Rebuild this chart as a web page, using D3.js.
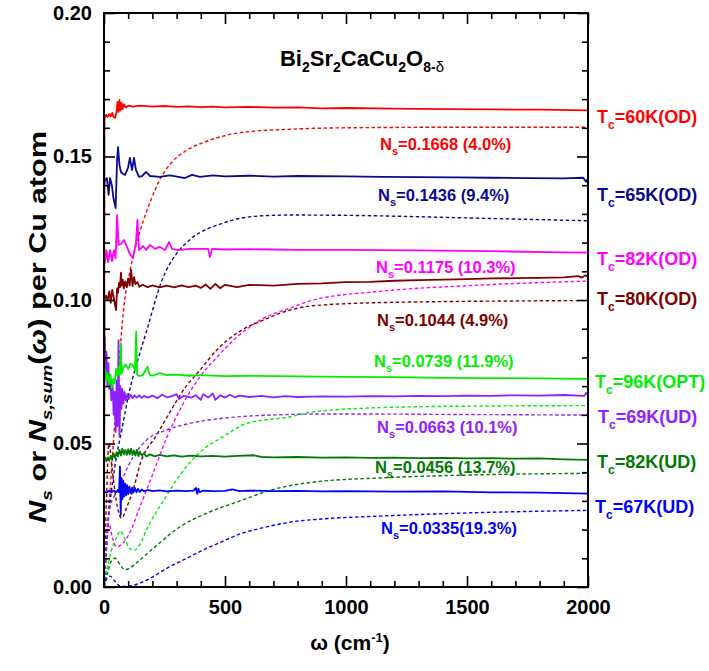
<!DOCTYPE html>
<html><head><meta charset="utf-8">
<script src="https://cdn.jsdelivr.net/npm/d3@7"></script>
<style>
html,body{margin:0;padding:0;background:#fff;}
svg{display:block;font-family:"Liberation Sans",Arial,Helvetica,sans-serif;font-weight:bold;}
</style></head><body>
<svg id="chart" width="709" height="671"></svg>
<script>
// ---- Samples (Bi2212 films) ----
const samples  = ["60K(OD)", "65K(OD)", "82K(OD)", "80K(OD)", "96K(OPT)", "69K(UD)", "82K(UD)", "67K(UD)"];
const nsLabels = ["=0.1668 (4.0%)", "=0.1436 (9.4%)", "=0.1175 (10.3%)", "=0.1044 (4.9%)",
                  "=0.0739 (11.9%)", "=0.0663 (10.1%)", "=0.0456 (13.7%)", "=0.0335(19.3%)"];

// ---- N_s(ω): superfluid weight spectra, [ω (cm-1), value per Cu] ----
const ns60OD = [[0,0],[2,0.1630],[8,0.1645],[15,0.1638],[22,0.1648],[28,0.1640],[34,0.1652],[40,0.1637],[46,0.1635],
  [52,0.1655],[56,0.1690],[60,0.1655],[64,0.1697],[68,0.1660],[72,0.1688],[76,0.1665],[82,0.1682],[90,0.1671],
  [100,0.1677],[120,0.1674],[150,0.1677],[200,0.1674],[250,0.1676],[300,0.1673],[350,0.1675],[400,0.1672],
  [450,0.1674],[500,0.1671],[600,0.1673],[700,0.1670],[800,0.1671],[900,0.1668],[1000,0.1669],[1200,0.1667],
  [1400,0.1665],[1600,0.1664],[1800,0.1663],[2000,0.1661]];
const ns65OD = [[0,0.1395],[4,0.1418],[12,0.1425],[19,0.1366],[25,0.1425],[33,0.1397],[39,0.1355],[48,0.1320],
  [54,0.1488],[58,0.1533],[64,0.1470],[70,0.1446],[79,0.1439],[87,0.1436],[99,0.1460],[107,0.1495],[116,0.1453],
  [124,0.1495],[132,0.1453],[145,0.1429],[157,0.1432],[174,0.1446],[190,0.1432],[231,0.1429],[273,0.1434],
  [335,0.1425],[364,0.1436],[397,0.1429],[450,0.1434],[500,0.1431],[600,0.1433],[700,0.1430],[800,0.1432],
  [1000,0.1431],[1150,0.1429],[1300,0.1428],[1450,0.1427],[1600,0.1426],[1750,0.1425],[1900,0.1424],
  [1980,0.1426],[1992,0.1412],[2000,0.1423]];
const ns82OD = [[0,0.1157],[4,0.1132],[10,0.1174],[17,0.1132],[25,0.1174],[33,0.1136],[41,0.1174],[48,0.1146],
  [54,0.1296],[60,0.1192],[70,0.1195],[83,0.1209],[95,0.1185],[107,0.1160],[120,0.1146],[132,0.1199],[138,0.1279],
  [145,0.1174],[161,0.1188],[174,0.1174],[190,0.1192],[211,0.1178],[231,0.1185],[252,0.1174],[269,0.1202],
  [281,0.1178],[306,0.1174],[355,0.1178],[430,0.1178],[438,0.1150],[446,0.1178],[500,0.1176],[600,0.1177],
  [800,0.1175],[1000,0.1175],[1300,0.1173],[1600,0.1170],[1900,0.1166],[2000,0.1165]];
const ns80OD = [[0,0],[2,0.1000],[8,0.1015],[15,0.1000],[22,0.1030],[28,0.0990],[34,0.1035],[40,0.1010],[46,0.0980],
  [50,0.0965],[54,0.1040],[58,0.1025],[62,0.1060],[66,0.1045],[70,0.1095],[74,0.1050],[78,0.1070],[82,0.1040],
  [88,0.1065],[94,0.1045],[100,0.1075],[106,0.1050],[112,0.1105],[118,0.1048],[124,0.1080],[130,0.1055],
  [138,0.1062],[146,0.1046],[160,0.1053],[180,0.1045],[200,0.1051],[230,0.1044],[260,0.1050],[290,0.1044],
  [320,0.1051],[350,0.1045],[380,0.1050],[400,0.1042],[420,0.1054],[440,0.1039],[460,0.1056],[480,0.1041],
  [500,0.1053],[550,0.1045],[600,0.1053],[700,0.1050],[800,0.1056],[900,0.1058],[1000,0.1062],[1100,0.1063],
  [1200,0.1067],[1300,0.1069],[1400,0.1071],[1500,0.1073],[1600,0.1075],[1700,0.1076],[1800,0.1077],
  [1900,0.1079],[1960,0.1083],[1975,0.1078],[1990,0.1086],[2000,0.1081]];
const ns96OPT = [[0,0.0785],[5,0.0760],[10,0.0720],[15,0.0745],[20,0.0705],[26,0.0740],[32,0.0695],[38,0.0725],
  [44,0.0710],[50,0.0760],[56,0.0735],[62,0.0770],[66,0.0740],[70,0.0850],[73,0.0745],[80,0.0765],[90,0.0775],
  [100,0.0760],[110,0.0778],[120,0.0772],[128,0.0755],[133,0.0890],[137,0.0740],[145,0.0735],[160,0.0738],
  [180,0.0768],[188,0.0740],[200,0.0736],[230,0.0745],[260,0.0738],[300,0.0740],[350,0.0736],[400,0.0738],
  [500,0.0735],[600,0.0736],[800,0.0734],[1000,0.0732],[1200,0.0731],[1400,0.0729],[1600,0.0728],
  [1800,0.0727],[2000,0.0725]];
const ns69UD = [[0,0.0790],[3,0.0870],[6,0.0760],[10,0.0820],[14,0.0700],[18,0.0780],[22,0.0690],[26,0.0740],
  [30,0.0650],[35,0.0720],[40,0.0600],[44,0.0680],[48,0.0540],[52,0.0720],[56,0.0560],[60,0.0860],[64,0.0524],
  [68,0.0700],[72,0.0620],[76,0.0690],[80,0.0640],[85,0.0680],[90,0.0650],[96,0.0672],[102,0.0655],[110,0.0670],
  [118,0.0658],[126,0.0668],[135,0.0660],[145,0.0668],[155,0.0659],[165,0.0666],[180,0.0660],[200,0.0667],
  [220,0.0658],[240,0.0670],[260,0.0661],[280,0.0665],[300,0.0672],[310,0.0655],[330,0.0666],[360,0.0660],
  [380,0.0668],[400,0.0652],[410,0.0672],[430,0.0660],[450,0.0674],[460,0.0652],[480,0.0668],[500,0.0660],
  [520,0.0670],[540,0.0661],[560,0.0667],[600,0.0662],[650,0.0666],[700,0.0661],[750,0.0665],[800,0.0662],
  [900,0.0664],[1000,0.0663],[1100,0.0665],[1200,0.0664],[1300,0.0666],[1400,0.0665],[1500,0.0667],
  [1600,0.0666],[1700,0.0668],[1800,0.0667],[1900,0.0669],[1985,0.0666],[1992,0.0676],[2000,0.0668]];
const ns82UD = [[0,0.0443],[5,0.0450],[10,0.0438],[16,0.0452],[22,0.0440],[28,0.0458],[34,0.0445],[40,0.0465],
  [46,0.0450],[52,0.0470],[58,0.0455],[64,0.0478],[70,0.0458],[76,0.0482],[82,0.0462],[88,0.0478],[94,0.0460],
  [100,0.0480],[106,0.0462],[112,0.0482],[118,0.0460],[124,0.0476],[130,0.0458],[136,0.0478],[142,0.0456],
  [148,0.0472],[156,0.0458],[165,0.0466],[175,0.0455],[190,0.0462],[210,0.0455],[230,0.0460],[260,0.0455],
  [290,0.0459],[320,0.0454],[360,0.0458],[400,0.0455],[450,0.0457],[500,0.0454],[550,0.0457],[620,0.0459],
  [650,0.0453],[700,0.0452],[800,0.0453],[900,0.0451],[1000,0.0452],[1100,0.0450],[1200,0.0451],[1300,0.0449],
  [1400,0.0450],[1500,0.0448],[1600,0.0449],[1700,0.0447],[1800,0.0448],[1900,0.0445],[2000,0.0443]];
const ns67UD = [[0,0.0327],[5,0.0332],[10,0.0328],[20,0.0335],[30,0.0330],[40,0.0336],[50,0.0331],[58,0.0338],
  [62,0.0330],[66,0.0419],[69,0.0250],[72,0.0380],[76,0.0305],[80,0.0370],[84,0.0315],[88,0.0360],[92,0.0320],
  [96,0.0355],[100,0.0324],[105,0.0350],[110,0.0326],[116,0.0346],[122,0.0330],[128,0.0345],[134,0.0330],
  [140,0.0342],[148,0.0331],[156,0.0340],[165,0.0333],[180,0.0338],[200,0.0334],[230,0.0337],[260,0.0333],
  [300,0.0336],[340,0.0334],[370,0.0336],[380,0.0345],[385,0.0325],[390,0.0343],[395,0.0330],[410,0.0336],
  [450,0.0334],[500,0.0335],[530,0.0340],[560,0.0334],[600,0.0336],[700,0.0334],[800,0.0335],[900,0.0333],
  [1000,0.0334],[1200,0.0332],[1400,0.0333],[1600,0.0330],[1800,0.0329],[2000,0.0325]];

// ---- N_s,sum(ω): missing-area sum rule, [ω (cm-1), value per Cu] ----
const sum60OD = [[0,0],[10,0.012],[20,0.028],[32,0.042],[52,0.066],[66,0.082],[80,0.096],[107,0.110],[149,0.124],
  [190,0.134],[231,0.142],[280,0.148],[330,0.1515],[438,0.1557],[562,0.1583],[769,0.1595],[1000,0.1600],
  [1500,0.1602],[2000,0.1602]];
const sum65OD = [[0,0],[15,0.020],[45,0.042],[74,0.055],[107,0.069],[136,0.078],[177,0.0895],[240,0.107],
  [302,0.1164],[355,0.121],[492,0.1268],[645,0.1293],[770,0.1296],[1000,0.1295],[1500,0.1286],[2000,0.1276]];
const sum82OD = [[0,0],[8,0.018],[20,0.022],[35,0.017],[52,0.014],[75,0.015],[107,0.019],[149,0.028],[200,0.039],
  [259,0.052],[328,0.064],[397,0.0733],[466,0.080],[548,0.087],[645,0.093],[769,0.0972],[864,0.100],
  [1140,0.103],[1554,0.1052],[2000,0.1066]];
const sum80OD = [[0,0],[10,0.030],[20,0.050],[35,0.040],[55,0.028],[73,0.024],[95,0.028],[121,0.034],[150,0.043],
  [218,0.053],[273,0.061],[328,0.0686],[397,0.0756],[466,0.0826],[548,0.0884],[658,0.093],[769,0.0965],
  [864,0.098],[1200,0.0992],[2000,0.0998]];
const sum96OPT = [[0,0],[25,0.011],[50,0.017],[68,0.0195],[85,0.017],[105,0.0135],[125,0.0128],[150,0.015],
  [176,0.020],[245,0.030],[314,0.039],[397,0.047],[493,0.0524],[590,0.057],[769,0.0593],[864,0.061],
  [1140,0.0625],[1500,0.063],[2000,0.0632]];
const sum69UD = [[0,0],[10,0.015],[25,0.028],[45,0.032],[60,0.034],[80,0.0384],[121,0.0454],[176,0.0512],
  [259,0.0547],[355,0.057],[493,0.0588],[631,0.0597],[934,0.0603],[1500,0.0601],[2000,0.0599]];
const sum82UD = [[0,0],[15,0.005],[30,0.009],[45,0.010],[65,0.008],[87,0.006],[110,0.0068],[149,0.0095],
  [218,0.0145],[314,0.021],[424,0.0257],[562,0.030],[700,0.034],[860,0.0365],[1140,0.038],[1500,0.039],[2000,0.0396]];
const sum67UD = [[0,0],[12,0.003],[25,0.0038],[45,0.002],[70,0.0002],[100,0.0003],[130,0.0008],[190,0.003],
  [259,0.0065],[330,0.0095],[400,0.0125],[480,0.0155],[562,0.0185],[650,0.0205],[769,0.0226],[900,0.0237],
  [1140,0.0247],[1500,0.0258],[2000,0.0267]];

const nsSeries  = [ns60OD, ns65OD, ns82OD, ns80OD, ns96OPT, ns69UD, ns82UD, ns67UD];
const sumSeries = [sum60OD, sum65OD, sum82OD, sum80OD, sum96OPT, sum69UD, sum82UD, sum67UD];

// ---- Axis ticks ----
const xMajorTicks = [0, 500, 1000, 1500, 2000];
const yMajorTicks = [0.00, 0.05, 0.10, 0.15, 0.20];

// ---- Styles and label placement ----
const colors = ["#ff0000", "#0a0a90", "#ff00ff", "#800000", "#00ee00", "#9020ff", "#007a00", "#0000ff"];
const tcPos = [[597,123],[597,201],[597,265],[597,305],[595,388],[598,423],[597,468],[595,513]];
const nsPos = [[380,150],[378,201],[376,273],[377,326],[374,367],[377,433],[375,473],[381,534]];

const svg = d3.select("#chart");
const plotLeft = 104, plotRight = 588, plotTop = 13, plotBottom = 587;

const x = d3.scaleLinear().domain([0, 2000]).range([plotLeft, plotRight]);
const y = d3.scaleLinear().domain([0, 0.20]).range([plotBottom, plotTop]);

svg.append("defs").append("clipPath").attr("id", "plot-clip")
  .append("rect").attr("x", plotLeft).attr("y", plotTop)
  .attr("width", plotRight - plotLeft).attr("height", plotBottom - plotTop);

const plot = svg.append("g").attr("clip-path", "url(#plot-clip)");

const solidLine  = d3.line().x(d => x(d[0])).y(d => y(d[1]));
const dashedLine = d3.line().x(d => x(d[0])).y(d => y(d[1])).curve(d3.curveMonotoneX);

// sum-rule curves underneath, spectra on top
sumSeries.forEach((s, i) => {
  plot.append("path").attr("d", dashedLine(s))
    .attr("fill", "none").attr("stroke", colors[i]).attr("stroke-width", 1.4)
    .attr("stroke-dasharray", "3.5,2.5");
});
for (let i = nsSeries.length - 1; i >= 0; i--) {
  plot.append("path").attr("d", solidLine(nsSeries[i]))
    .attr("fill", "none").attr("stroke", colors[i]).attr("stroke-width", 1.8)
    .attr("stroke-linejoin", "round");
}

// ---- Axes (ticks pointing into the frame on all four sides) ----
const xMinor = d3.range(0, 2001, 100).filter(v => v % 500 !== 0);
const yMinor = d3.range(0, 21).map(v => v / 100).filter(v => Math.round(v * 100) % 5 !== 0);

function styleAxis(g) {
  g.select(".domain").remove();
  g.selectAll("line").attr("stroke", "#000").attr("stroke-width", 1.6);
  g.selectAll("text").attr("fill", "#000").attr("font-size", 20).attr("font-weight", "bold")
    .attr("font-family", "'Liberation Sans', Arial, sans-serif");
}

svg.append("g").attr("transform", `translate(0,${plotBottom})`)
  .call(d3.axisBottom(x).tickValues(xMajorTicks).tickSize(-11).tickPadding(13).tickFormat(d3.format("d")))
  .call(styleAxis);
svg.append("g").attr("transform", `translate(0,${plotBottom})`)
  .call(d3.axisBottom(x).tickValues(xMinor).tickSize(-6).tickFormat(""))
  .call(styleAxis);
svg.append("g").attr("transform", `translate(0,${plotTop})`)
  .call(d3.axisTop(x).tickValues(xMajorTicks).tickSize(-11).tickFormat(""))
  .call(styleAxis);
svg.append("g").attr("transform", `translate(0,${plotTop})`)
  .call(d3.axisTop(x).tickValues(xMinor).tickSize(-6).tickFormat(""))
  .call(styleAxis);

svg.append("g").attr("transform", `translate(${plotLeft},0)`)
  .call(d3.axisLeft(y).tickValues(yMajorTicks).tickSize(-11).tickPadding(12).tickFormat(d3.format(".2f")))
  .call(styleAxis);
svg.append("g").attr("transform", `translate(${plotLeft},0)`)
  .call(d3.axisLeft(y).tickValues(yMinor).tickSize(-6).tickFormat(""))
  .call(styleAxis);
svg.append("g").attr("transform", `translate(${plotRight},0)`)
  .call(d3.axisRight(y).tickValues(yMajorTicks).tickSize(-11).tickFormat(""))
  .call(styleAxis);
svg.append("g").attr("transform", `translate(${plotRight},0)`)
  .call(d3.axisRight(y).tickValues(yMinor).tickSize(-6).tickFormat(""))
  .call(styleAxis);

svg.append("rect").attr("x", plotLeft).attr("y", plotTop)
  .attr("width", plotRight - plotLeft).attr("height", plotBottom - plotTop)
  .attr("fill", "none").attr("stroke", "#000").attr("stroke-width", 2);

// ---- Title ----
const title = svg.append("text").attr("x", 444).attr("y", 66).attr("text-anchor", "end")
  .attr("font-size", 22).attr("fill", "#000");
title.append("tspan").text("Bi");
title.append("tspan").attr("dy", 6).attr("font-size", 14).text("2");
title.append("tspan").attr("dy", -6).text("Sr");
title.append("tspan").attr("dy", 6).attr("font-size", 14).text("2");
title.append("tspan").attr("dy", -6).text("CaCu");
title.append("tspan").attr("dy", 6).attr("font-size", 14).text("2");
title.append("tspan").attr("dy", -6).text("O");
title.append("tspan").attr("dy", 6).attr("font-size", 14).text("8-");
title.append("tspan").attr("font-size", 15).attr("font-weight", "normal").text("δ");

// ---- Sample labels ----
samples.forEach((s, i) => {
  const t = svg.append("text").attr("x", tcPos[i][0]).attr("y", tcPos[i][1])
    .attr("font-size", 18).attr("fill", colors[i]);
  t.append("tspan").text("T");
  t.append("tspan").attr("dy", 6).attr("font-size", 12).text("c");
  t.append("tspan").attr("dy", -6).text("=" + s);

  const n = svg.append("text").attr("x", nsPos[i][0]).attr("y", nsPos[i][1])
    .attr("font-size", 16.5).attr("fill", colors[i]);
  n.append("tspan").text("N");
  n.append("tspan").attr("dy", 5).attr("font-size", 11).text("s");
  n.append("tspan").attr("dy", -5).text(nsLabels[i]);
});

// ---- Axis titles ----
const xt = svg.append("text").attr("x", 350).attr("y", 650).attr("text-anchor", "middle")
  .attr("font-size", 21).attr("fill", "#000");
xt.append("tspan").text("ω (cm");
xt.append("tspan").attr("dy", -8).attr("font-size", 13).text("-1");
xt.append("tspan").attr("dy", 8).text(")");

const yt = svg.append("text").attr("transform", "translate(46,327) rotate(-90)")
  .attr("text-anchor", "middle").attr("font-size", 24).attr("fill", "#000")
  .attr("textLength", 392).attr("lengthAdjust", "spacingAndGlyphs");
yt.append("tspan").attr("font-style", "italic").text("N");
yt.append("tspan").attr("dy", 6).attr("font-size", 15).attr("font-style", "italic").text("s");
yt.append("tspan").attr("dy", -6).text(" or ");
yt.append("tspan").attr("font-style", "italic").text("N");
yt.append("tspan").attr("dy", 6).attr("font-size", 15).attr("font-style", "italic").text("s,sum");
yt.append("tspan").attr("dy", -6).text("(");
yt.append("tspan").attr("font-style", "italic").text("ω");
yt.append("tspan").text(") per Cu atom");
</script></body></html>
